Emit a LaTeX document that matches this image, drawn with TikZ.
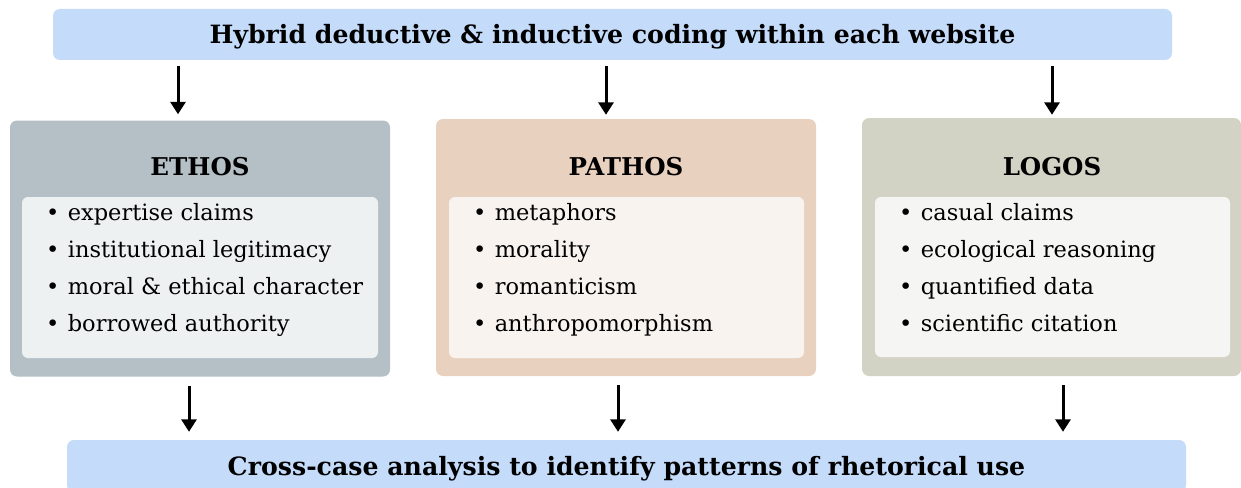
\documentclass[tikz,border=0pt]{standalone}
\usepackage{fontspec}
\setmainfont{DejaVu Serif}
\usetikzlibrary{arrows.meta}
\definecolor{bannerblue}{RGB}{196,220,250}
\definecolor{ethosfill}{RGB}{180,192,198}
\definecolor{ethosin}{RGB}{238,241,242}
\definecolor{pathosfill}{RGB}{233,209,192}
\definecolor{pathosin}{RGB}{249,243,240}
\definecolor{logosfill}{RGB}{211,211,197}
\definecolor{logosin}{RGB}{245,245,243}
\tikzstyle{banner}=[rectangle, rounded corners=7pt, fill=bannerblue, minimum width=1119pt, minimum height=51pt, text height=24pt, text depth=6pt, font=\bfseries\fontsize{25.2}{30}\selectfont]
\tikzstyle{appeal}=[rectangle, rounded corners=7pt, minimum width=380pt, minimum height=256pt]
\tikzstyle{panel}=[rectangle, rounded corners=6pt, minimum width=356pt, minimum height=161pt]
\tikzstyle{heading}=[font=\bfseries\fontsize{24.5}{30}\selectfont]
\tikzstyle{items}=[align=left, anchor=north west, inner sep=0pt, font=\fontsize{22.5}{37}\selectfont]
\tikzstyle{flow}=[line width=3pt, -{Triangle[width=15pt,length=12.5pt]}]
\newcommand{\itm}{\textbullet\hspace{0.38em}}

\begin{document}
\begin{tikzpicture}[x=1pt, y=-1pt]
    \useasboundingbox[fill=white] (0,0) rectangle (1241,487);
    \node[banner] (coding) at (612.5, 34.5) {Hybrid deductive \& inductive coding within each website};
    \node[banner, minimum height=52pt] (crosscase) at (626.5, 466) {Cross-case analysis to identify patterns of rhetorical use};

    % the three appeals
    \node[appeal, fill=ethosfill] (ethos) at (200, 248.5) {};
    \node[appeal, fill=pathosfill, minimum height=257pt] (pathos) at (626, 247.5) {};
    \node[appeal, fill=logosfill, minimum width=379pt, minimum height=258pt] (logos) at (1051.5, 247) {};
    \node[panel, fill=ethosin] (ethoslist) at (200, 277.5) {};
    \node[panel, fill=pathosin, minimum width=355pt] (pathoslist) at (626.5, 277.5) {};
    \node[panel, fill=logosin, minimum width=355pt, minimum height=160pt] (logoslist) at (1052.5, 277) {};

    \node[heading] (ethostitle) at (200, 167) {ETHOS};
    \node[heading] (pathostitle) at (626, 167) {PATHOS};
    \node[heading] (logostitle) at (1052, 167) {LOGOS};

    \node[items] (ethositems) at ([shift={(24,6)}]ethoslist.north west)
        {\itm expertise claims\\ \itm institutional legitimacy\\
         \itm moral \& ethical character\\ \itm borrowed authority};
    \node[items] (pathositems) at ([shift={(24,6)}]pathoslist.north west)
        {\itm metaphors\\ \itm morality\\
         \itm romanticism\\ \itm anthropomorphism};
    \node[items] (logositems) at ([shift={(24,6)}]logoslist.north west)
        {\itm casual claims\\ \itm ecological reasoning\\
         \itm quantified data\\ \itm scientific citation};

    % arrows in and out
    \coordinate (ein) at (178,0);
    \coordinate (pin) at (606,0);
    \coordinate (lin) at (1052,0);
    \coordinate (eout) at (189,0);
    \coordinate (pout) at (618,0);
    \coordinate (lout) at (1063,0);
    \draw[flow, shorten <=6pt, shorten >=6pt] (coding.south -| ein) -- (ethos.north -| ein);
    \draw[flow, shorten <=6pt, shorten >=4pt] (coding.south -| pin) -- (pathos.north -| pin);
    \draw[flow, shorten <=6pt, shorten >=3pt] (coding.south -| lin) -- (logos.north -| lin);
    \draw[flow, shorten <=9pt, shorten >=8pt] (ethos.south -| eout) -- (crosscase.north -| eout);
    \draw[flow, shorten <=9pt, shorten >=8pt] (pathos.south -| pout) -- (crosscase.north -| pout);
    \draw[flow, shorten <=9pt, shorten >=8pt] (logos.south -| lout) -- (crosscase.north -| lout);
\end{tikzpicture}
\end{document}
